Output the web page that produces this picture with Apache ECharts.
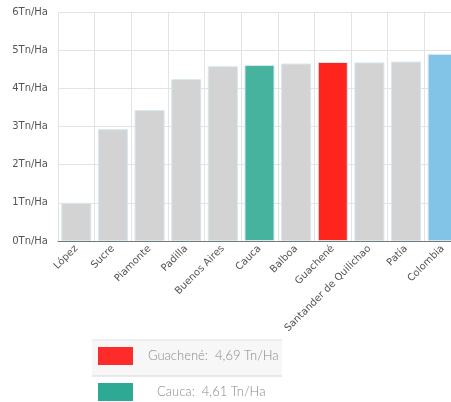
<!DOCTYPE html>
<html><head><meta charset="utf-8">
<script src="https://cdn.jsdelivr.net/npm/echarts@6/dist/echarts.min.js"></script>
<style>html,body{margin:0;padding:0;background:#fff;overflow:hidden}#c{width:451px;height:402px}</style>
</head><body><div id="c"></div>
<script>
const categories = ['López','Sucre','Piamonte','Padilla','Buenos Aires','Cauca','Balboa','Guachené','Santander de Quilichao','Patía','Colombia'];
const values = [1.0, 2.93, 3.43, 4.24, 4.58, 4.61, 4.65, 4.69, 4.68, 4.70, 4.90];
const barColors = ['#d3d3d3','#d3d3d3','#d3d3d3','#d3d3d3','#d3d3d3','#46b39f','#d3d3d3','#ff251c','#d3d3d3','#d3d3d3','#82c4e8'];
const yTicks = [0,1,2,3,4,5,6];
const legendRows = [
  {label:'Guachené:  4,69 Tn/Ha', color:'#ff2a2a', bg:'#f7f7f7'},
  {label:'Cauca:  4,61 Tn/Ha', color:'#2ea993', bg:'#ffffff'}
];

const chart = echarts.init(document.getElementById('c'));
const graphic = [];
legendRows.forEach((r, i) => {
  const y0 = 340 + i * 36;
  graphic.push({type:'rect', left:92, top:y0, shape:{width:190, height:36}, style:{fill:r.bg}, silent:true});
  graphic.push({type:'line', shape:{x1:92, y1:y0, x2:282, y2:y0}, style:{stroke:'#e2e2e2', lineWidth:1}, silent:true});
  graphic.push({type:'rect', left:98, top:y0 + 7, shape:{width:35, height:18}, style:{fill:r.color}, silent:true});
  graphic.push({type:'text', left: i === 0 ? 148 : 157, top:y0 + 9, style:{text:r.label, fill:'#8a8a8a', font:'300 13px Lato'}, silent:true});
});
graphic.push({type:'line', shape:{x1:92, y1:376, x2:282, y2:376}, style:{stroke:'#e2e2e2', lineWidth:1}, silent:true});

chart.setOption({
  animation:false,
  grid:{left:58, width:403, top:12, height:229, containLabel:false, outerBoundsMode:'none'},
  xAxis:{
    type:'category', data:categories,
    axisLine:{lineStyle:{color:'#777'}},
    axisTick:{alignWithLabel:true, length:3, lineStyle:{color:'#777'}},
    axisLabel:{rotate:45, interval:0, color:'#555', fontSize:10, fontFamily:'DejaVu Sans', margin:6},
    splitLine:{show:true, lineStyle:{color:'#e3e3e3'}}
  },
  yAxis:{
    type:'value', min:yTicks[0], max:yTicks[yTicks.length-1], interval:1,
    axisLine:{show:false}, axisTick:{show:false},
    axisLabel:{formatter:v => v + 'Tn/Ha', color:'#555', fontSize:10, fontFamily:'DejaVu Sans', margin:10},
    splitLine:{lineStyle:{color:'#e3e3e3'}}
  },
  series:[{
    type:'bar', barCategoryGap:'18%',
    data: values.map((v,i) => ({value:v, itemStyle:{color:barColors[i], borderColor:'#d6e8f0', borderWidth:1}}))
  }],
  graphic: graphic
});
</script></body></html>
